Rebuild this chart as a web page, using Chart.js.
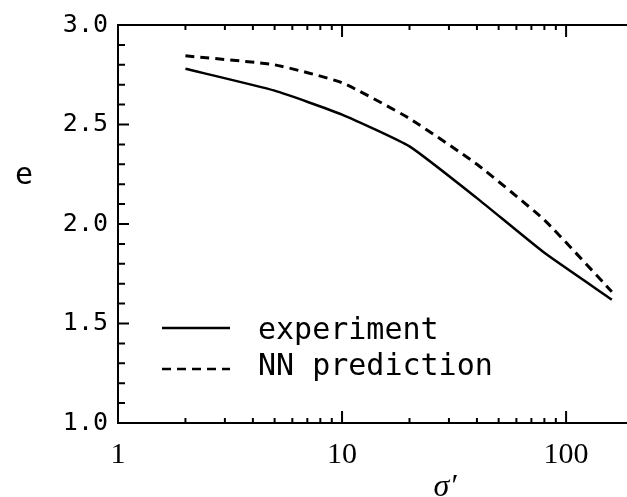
<!DOCTYPE html>
<html>
<head>
<meta charset="utf-8">
<script src="https://cdn.jsdelivr.net/npm/chart.js@4/dist/chart.umd.min.js"></script>
<style>
  body { margin: 0; background: #fff; overflow: hidden; }
</style>
</head>
<body>
<canvas id="c" width="627" height="497"></canvas>
<script>
// values
const sigma = [2, 5, 10, 20, 40, 80, 160];
const experiment = [2.78, 2.67, 2.55, 2.39, 2.13, 1.855, 1.62];
const nnPrediction = [2.845, 2.8, 2.71, 2.53, 2.3, 2.02, 1.66];
const xTickLabels = [1, 10, 100];
const yTickLabels = [1.0, 1.5, 2.0, 2.5, 3.0];

const MONO = '"DejaVu Sans Mono", monospace';
const SERIF = '"Liberation Serif", serif';

// inward ticks, legend and axis titles like the plotter output
const extras = {
  id: 'extras',
  afterDraw(chart) {
    const ctx = chart.ctx;
    const a = chart.chartArea;
    const x = chart.scales.x, y = chart.scales.y;
    ctx.save();
    ctx.strokeStyle = '#000';
    ctx.lineWidth = 2;
    ctx.beginPath();
    // y ticks every 0.1
    for (let i = 10; i <= 30; i++) {
      const py = y.getPixelForValue(i / 10);
      const len = i % 5 === 0 ? 11 : 7;
      ctx.moveTo(a.left, py); ctx.lineTo(a.left + len, py);
    }
    // x ticks 1..9 per decade, bottom and top
    for (let d = 1; d <= 100; d *= 10) {
      for (let k = 1; k <= 9; k++) {
        const v = k * d;
        if (v > x.max) break;
        const px = x.getPixelForValue(v);
        const len = k === 1 ? 12 : 5;
        ctx.moveTo(px, a.bottom); ctx.lineTo(px, a.bottom - len);
        ctx.moveTo(px, a.top); ctx.lineTo(px, a.top + len);
      }
    }
    ctx.stroke();

    // legend
    ctx.lineWidth = 2.5;
    ctx.beginPath();
    ctx.moveTo(162, 328); ctx.lineTo(230, 328);
    ctx.stroke();
    ctx.setLineDash([9, 6]);
    ctx.beginPath();
    ctx.moveTo(162, 369); ctx.lineTo(230, 369);
    ctx.stroke();
    ctx.setLineDash([]);
    ctx.fillStyle = '#000';
    ctx.font = '30px ' + MONO;
    ctx.textBaseline = 'middle';
    ctx.textAlign = 'left';
    ctx.fillText('experiment', 258, 331);
    ctx.fillText('NN prediction', 258, 367);

    // axis titles
    ctx.textAlign = 'center';
    ctx.fillText('e', 24, 176);
    ctx.font = 'italic 32px ' + SERIF;
    ctx.textBaseline = 'alphabetic';
    ctx.fillText('σ′', 445, 496);
    ctx.restore();
  }
};

const chart = new Chart(document.getElementById('c'), {
  type: 'line',
  data: {
    datasets: [
      {
        label: 'experiment',
        data: sigma.map((s, i) => ({ x: s, y: experiment[i] })),
        borderColor: '#000',
        borderWidth: 2.5,
        pointRadius: 0,
        fill: false,
        tension: 0.15
      },
      {
        label: 'NN prediction',
        data: sigma.map((s, i) => ({ x: s, y: nnPrediction[i] })),
        borderColor: '#000',
        borderWidth: 3,
        borderDash: [9, 6],
        pointRadius: 0,
        fill: false,
        tension: 0.15
      }
    ]
  },
  options: {
    responsive: false,
    animation: false,
    layout: { padding: { top: 25, right: 0, left: 0, bottom: 0 } },
    plugins: { legend: { display: false }, tooltip: { enabled: false } },
    scales: {
      x: {
        type: 'logarithmic',
        position: 'bottom',
        min: 1,
        max: 187,
        afterBuildTicks: (s) => { s.ticks = xTickLabels.map(v => ({ value: v })); },
        afterFit: (s) => { s.height = 74; },
        grid: { drawOnChartArea: false, drawTicks: false },
        border: { display: true, color: '#000', width: 2 },
        ticks: {
          color: '#000',
          padding: 14,
          maxRotation: 0,
          font: { family: SERIF, size: 30 },
          callback: (v) => String(v)
        }
      },
      x2: {
        type: 'logarithmic',
        position: 'top',
        min: 1,
        max: 187,
        afterFit: (s) => { s.height = 0; },
        grid: { drawOnChartArea: false, drawTicks: false },
        border: { display: true, color: '#000', width: 2 },
        ticks: { display: false }
      },
      y: {
        min: 1,
        max: 3,
        afterBuildTicks: (s) => { s.ticks = yTickLabels.map(v => ({ value: v })); },
        afterFit: (s) => { s.width = 118; },
        grid: { drawOnChartArea: false, drawTicks: false },
        border: { display: true, color: '#000', width: 2 },
        ticks: {
          color: '#000',
          padding: 10,
          font: { family: MONO, size: 25 },
          callback: (v) => Number(v).toFixed(1)
        }
      }
    }
  },
  plugins: [extras]
});
</script>
</body>
</html>
